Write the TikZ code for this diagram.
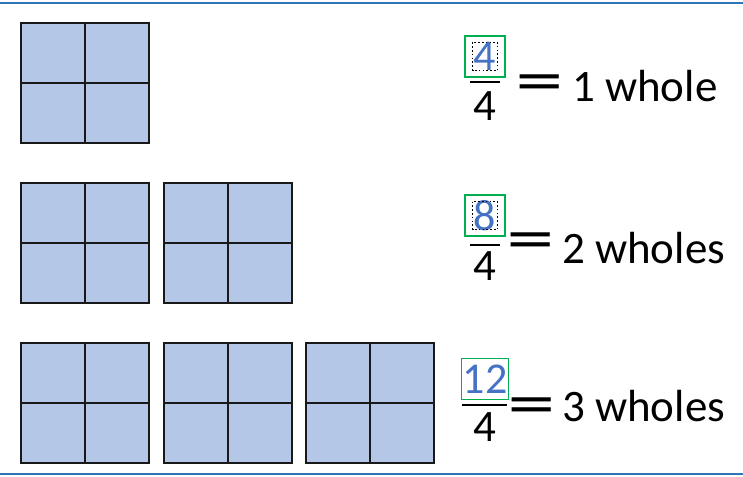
\documentclass[tikz,border=0pt]{standalone}
\usepackage{fontspec}
\setmainfont{Carlito}
\newfontfamily\eqfont{DejaVu Sans}
\usetikzlibrary{positioning}
\definecolor{partfill}{RGB}{180,199,231}
\definecolor{numblue}{RGB}{68,114,196}
\definecolor{boxgreen}{RGB}{0,176,80}
\definecolor{rulecol}{RGB}{46,117,182}

\begin{document}
\begin{tikzpicture}[x=1pt,y=-1pt,
  part/.style={draw=black!90,line width=2pt,fill=partfill},
  numbox/.style={draw=boxgreen,line width=1.3pt,text=numblue,inner sep=1pt,
    minimum width=40pt,minimum height=41pt,font=\fontsize{44}{44}\selectfont},
  denom/.style={inner sep=0pt,anchor=base,font=\fontsize{45}{45}\selectfont},
  eqsign/.style={inner sep=0pt,font=\eqfont\fontsize{50}{50}\selectfont},
  wholes/.style={inner sep=0pt,anchor=base west,font=\fontsize{45}{45}\selectfont},
  fracbar/.style={line width=2.5pt},
  selbox/.style={line width=1.6pt,dash pattern=on 1.6pt off 2.2pt}]
\useasboundingbox (0,0) rectangle (743,476);
% page rules
\draw[rulecol,line width=2pt] (0,3.5) -- (743,3.5);
\draw[rulecol,line width=2pt] (0,474) -- (743,474);
% quartered squares
\foreach \r in {1,2,3}{
  \foreach \c in {1,...,\r}{
    \pgfmathsetmacro{\xa}{21+142.5*(\c-1)}
    \pgfmathsetmacro{\ya}{23+160*(\r-1)}
    \draw[part] (\xa,\ya) rectangle +(128,120);
    \draw[part] (\xa+64,\ya) -- +(0,120);
    \draw[part] (\xa,\ya+60) -- +(128,0);
  }
}
% row 1
\node[numbox] (num1) at (485,56.5) {4};
\draw[selbox] ([xshift=-12.5pt,yshift=14pt]num1.center) rectangle ([xshift=12.5pt,yshift=-14pt]num1.center);
\draw[fracbar] (470,82) -- (500,82);
\node[denom] (den1) at (485,121) {4};
\node[eqsign] (eq1) at (539.5,86) {\scalebox{1.25}[1]{=}};
\node[wholes] (txt1) at (572,102) {1 whole};
% row 2
\node[numbox] (num2) at (485,215.5) {8};
\draw[selbox] ([xshift=-12.5pt,yshift=14pt]num2.center) rectangle ([xshift=12.5pt,yshift=-14pt]num2.center);
\draw[fracbar] (470,245) -- (500,245);
\node[denom] (den2) at (485,280) {4};
\node[eqsign] (eq2) at (531,244) {\scalebox{1.25}[1]{=}};
\node[wholes] (txt2) at (562,263) {2 wholes};
% row 3
\node[numbox] (num3) at (485,379) {12};
\draw[fracbar] (462,405) -- (507,405);
\node[denom] (den3) at (485,441) {4};
\node[eqsign] (eq3) at (531.5,409) {\scalebox{1.25}[1]{=}};
\node[wholes] (txt3) at (562,421) {3 wholes};
\end{tikzpicture}
\end{document}
